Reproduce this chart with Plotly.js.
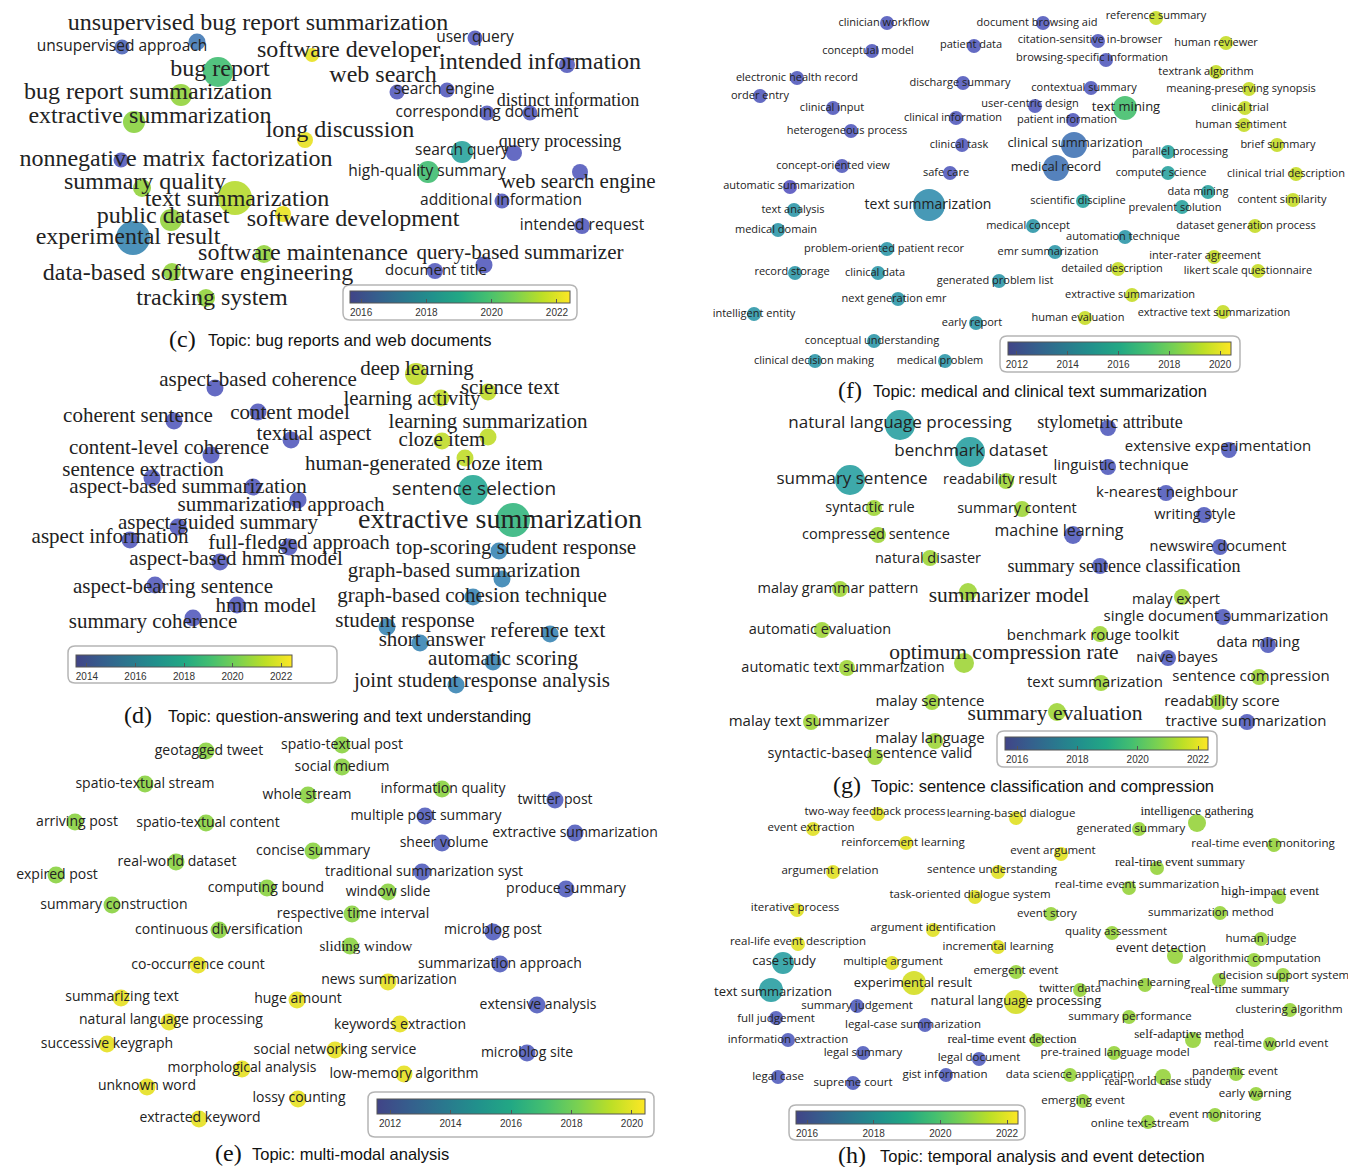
<!DOCTYPE html>
<html><head><meta charset="utf-8">
<script src="https://cdn.plot.ly/plotly-3.0.1.min.js"></script>
<style>html,body{margin:0;padding:0;background:#fff}#chart{width:1348px;height:1167px}</style>
</head><body><div id="chart"></div>
<script>
// Each row: [term, nodeX, nodeY, averagePublicationYear, nodeWeight, labelX, labelY, labelSize, serif]
const panelC = [
 ['unsupervised bug report summarization',197,42,2017.0,17,258,24,24,1],
 ['unsupervised approach',122,47,2016.4,15,122,47,15.5,0],
 ['software developer.',312,55,2022.2,14,351,51,24,1],
 ['user query',475,38,2016.0,15,475,38,15.5,0],
 ['bug report',218,72,2019.6,30,220,70,24,1],
 ['intended information',567,65,2016.0,16,540,63,24,1],
 ['web search',397,92,2016.0,15,383,76,24,1],
 ['search engine',447,90,2016.0,15,444,90,15.5,0],
 ['bug report summarization',181,95,2020.9,22,148,93,24,1],
 ['distinct information',530,113,2016.0,15,568,101,18,1],
 ['corresponding document',487,113,2016.0,15,487,113,15.5,0],
 ['extractive summarization',134,122,2020.8,22,150,117,24,1],
 ['long discussion',305,140,2022.2,16,340,131,24,1],
 ['query processing',514,153,2016.0,16,560,142,18,1],
 ['search query',462,152,2018.5,22,462,151,15.5,0],
 ['nonnegative matrix factorization',121,160,2016.0,15,176,160,24,1],
 ['high-quality summary',428,172,2019.6,22,427,172,15.5,0],
 ['web search engine',580,172,2016.0,16,578,183,21,1],
 ['summary quality',142,188,2020.9,18,145,183,24,1],
 ['text summarization',235,198,2021.4,34,237,200,24,1],
 ['additional information',502,201,2016.0,15,501,201,15.5,0],
 ['public dataset',171,220,2020.9,22,163,217,24,1],
 ['software development',283,214,2022.2,16,353,220,24,1],
 ['intended request',582,226,2016.0,16,582,226,15.5,0],
 ['experimental result',133,238,2017.4,34,128,238,24,1],
 ['software maintenance',264,254,2020.9,18,303,254,24,1],
 ['query-based summarizer',484,265,2016.0,17,520,254,21,1],
 ['document title',435,271,2016.0,16,436,271,15,0],
 ['data-based software engineering',172,272,2020.9,18,198,274,24,1],
 ['tracking system',206,298,2020.9,18,212,299,24,1]
];
const panelD = [
 ['deep learning',416,374,2021.3,22,417,370,21,1],
 ['aspect-based coherence',215,388,2014.0,17,258,381,21,1],
 ['science text',488,392,2021.3,17,510,389,21,1],
 ['learning activity',441,398,2021.3,17,412,400,21,1],
 ['coherent sentence',174,421,2014.0,17,138,417,21,1],
 ['content model',258,412,2014.0,17,290,414,21,1],
 ['learning summarization',488,437,2021.3,17,488,423,21,1],
 ['textual aspect',291,440,2014.0,17,314,435,21,1],
 ['cloze item',442,441,2021.3,17,442,441,21,1],
 ['human-generated cloze item',465,458,2021.3,17,424,465,21,1],
 ['content-level coherence',211,455,2014.0,17,169,449,21,1],
 ['sentence extraction',152,478,2014.0,17,143,471,21,1],
 ['aspect-based summarization',253,487,2014.0,17,188,488,21,1],
 ['sentence selection',473,490,2017.6,30,474,490,19,0],
 ['summarization approach',298,500,2014.0,17,281,506,21,1],
 ['extractive summarization',513,520,2018.4,34,500,521,28,1],
 ['aspect-guided summary',178,527,2014.0,17,218,524,21,1],
 ['aspect information',130,540,2014.0,17,110,538,21,1],
 ['full-fledged approach',289,547,2014.0,17,299,544,21,1],
 ['top-scoring student response',499,551,2015.8,17,516,549,21,1],
 ['aspect-based hmm model',220,562,2014.0,17,236,560,21,1],
 ['graph-based summarization',502,579,2015.8,17,464,572,21,1],
 ['aspect-bearing sentence',155,585,2014.0,17,173,588,21,1],
 ['graph-based cohesion technique',473,597,2015.8,17,472,597,21,1],
 ['hmm model',237,605,2014.0,17,266,607,21,1],
 ['summary coherence',193,618,2014.0,17,153,623,21,1],
 ['student response',387,627,2015.8,17,405,622,21,1],
 ['reference text',550,634,2015.8,17,548,632,21,1],
 ['short answer',420,643,2015.8,17,432,641,21,1],
 ['automatic scoring',493,662,2015.8,17,503,660,21,1],
 ['joint student response analysis',456,685,2015.8,17,482,682,21,1]
];
const panelE = [
 ['geotagged tweet',206,751,2018.3,17,209,751,14,0],
 ['spatio-textual post',342,745,2018.3,17,342,745,14,0],
 ['social medium',342,767,2018.3,17,342,767,14,0],
 ['spatio-textual stream',145,784,2018.3,17,145,784,14,0],
 ['information quality',442,789,2018.3,17,443,789,14,0],
 ['whole stream',308,795,2018.3,17,307,795,14,0],
 ['twitter post',555,800,2012.1,17,555,800,14,0],
 ['multiple post summary',425,816,2012.1,17,426,816,14,0],
 ['arriving post',75,822,2018.3,17,77,822,14,0],
 ['spatio-textual content',206,823,2018.3,17,208,823,14,0],
 ['extractive summarization',575,833,2012.1,17,575,833,14,0],
 ['sheer volume',442,843,2012.1,17,444,843,14,0],
 ['concise summary',313,851,2018.3,17,313,851,14,0],
 ['real-world dataset',176,862,2018.3,17,177,862,14,0],
 ['traditional summarization syst',422,872,2012.1,17,424,872,14,0],
 ['expired post',56,875,2018.3,17,57,875,14,0],
 ['computing bound',267,888,2018.3,17,266,888,14,0],
 ['window slide',388,892,2018.3,17,388,892,14,0],
 ['produce summary',566,889,2012.1,17,566,889,14,0],
 ['summary construction',112,905,2018.3,17,114,905,14,0],
 ['respective time interval',352,914,2018.3,17,353,914,14,0],
 ['continuous diversification',219,930,2018.3,17,219,930,14,0],
 ['microblog post',493,932,2012.1,17,493,930,14,0],
 ['sliding window',350,946,2018.3,17,366,947,15,1],
 ['co-occurrence count',198,965,2020.1,17,198,965,14,0],
 ['summarization approach',500,964,2012.1,17,500,964,14,0],
 ['news summarization',388,982,2020.1,17,389,980,14,0],
 ['summarizing text',121,998,2020.1,17,122,997,14,0],
 ['huge amount',297,1000,2020.1,17,298,999,14,0],
 ['extensive analysis',537,1005,2012.1,17,538,1005,14,0],
 ['natural language processing',169,1022,2020.1,17,171,1020,14,0],
 ['keywords extraction',400,1024,2020.1,17,400,1025,14,0],
 ['successive keygraph',107,1044,2020.1,17,107,1044,14,0],
 ['social networking service',335,1050,2020.1,17,335,1050,14,0],
 ['microblog site',527,1053,2012.1,17,527,1053,14,0],
 ['morphological analysis',242,1069,2020.1,17,242,1068,14,0],
 ['low-memory algorithm',404,1074,2020.1,17,404,1074,14,0],
 ['unknown word',147,1087,2020.1,17,147,1086,14,0],
 ['lossy counting',298,1099,2020.1,17,299,1098,14,0],
 ['extracted keyword',199,1119,2020.1,17,200,1118,14,0]
];
const panelF = [
 ['clinician workflow',887,23,2012.1,14,884,23,11,0],
 ['document browsing aid',1043,23,2012.1,14,1037,23,11,0],
 ['reference summary',1156,18,2019.4,14,1156,16,11,0],
 ['conceptual model',872,51,2012.1,14,868,51,11,0],
 ['patient data',974,46,2012.1,14,971,45,11,0],
 ['citation-sensitive in-browser',1098,41,2012.1,14,1090,40,11,0],
 ['human reviewer',1226,43,2019.4,14,1216,43,11,0],
 ['browsing-specific information',1106,60,2012.1,14,1092,58,11,0],
 ['textrank algorithm',1216,72,2019.4,14,1206,72,11,0],
 ['electronic health record',797,78,2012.1,14,797,78,11,0],
 ['discharge summary',963,83,2012.1,14,960,83,11,0],
 ['contextual summary',1091,88,2012.1,14,1084,88,11,0],
 ['meaning-preserving synopsis',1249,89,2019.4,14,1241,89,11,0],
 ['order entry',760,96,2012.1,14,760,96,11,0],
 ['clinical input',833,108,2012.1,14,832,108,11,0],
 ['user-centric design',1035,106,2012.1,14,1030,104,11,0],
 ['text mining',1125,108,2016.9,24,1126,108,13,0],
 ['clinical trial',1245,108,2019.4,14,1240,108,11,0],
 ['clinical information',956,118,2012.1,14,953,118,11,0],
 ['patient information',1073,120,2012.1,14,1067,120,11,0],
 ['human sentiment',1244,125,2019.4,14,1241,125,11,0],
 ['heterogeneous process',851,131,2012.1,14,847,131,11,0],
 ['clinical task',962,145,2012.1,14,959,145,11,0],
 ['clinical summarization',1074,145,2013.2,26,1075,144,13,0],
 ['parallel processing',1168,152,2015.3,14,1180,152,11,0],
 ['brief summary',1277,145,2019.4,14,1278,145,11,0],
 ['concept-oriented view',842,166,2012.1,14,833,166,11,0],
 ['safe care',950,173,2012.1,14,946,173,11,0],
 ['medical record',1056,168,2013.2,26,1056,168,13,0],
 ['computer science',1168,173,2015.3,14,1161,173,11,0],
 ['clinical trial description',1296,174,2019.4,14,1286,174,11,0],
 ['automatic summarization',790,187,2011.8,14,789,186,11,0],
 ['data mining',1208,192,2015.3,14,1198,192,11,0],
 ['text summarization',929,205,2014.3,32,928,205,14,0],
 ['scientific discipline',1083,201,2015.3,14,1078,201,11,0],
 ['content similarity',1293,200,2019.4,14,1282,200,11,0],
 ['text analysis',794,210,2014.7,14,793,210,11,0],
 ['prevalent solution',1182,207,2015.3,14,1175,208,11,0],
 ['medical domain',778,230,2014.7,14,776,230,11,0],
 ['medical concept',1033,226,2014.7,14,1028,226,11,0],
 ['dataset generation process',1255,226,2019.4,14,1246,226,11,0],
 ['automation technique',1125,237,2014.7,14,1123,237,11,0],
 ['problem-oriented patient recor',887,249,2014.7,14,884,249,11,0],
 ['emr summarization',1055,252,2014.7,14,1048,252,11,0],
 ['inter-rater agreement',1214,257,2019.4,14,1205,256,11,0],
 ['record storage',795,273,2014.7,14,792,272,11,0],
 ['clinical data',878,273,2014.7,14,875,273,11,0],
 ['detailed description',1118,269,2019.4,14,1112,269,11,0],
 ['likert scale questionnaire',1258,271,2019.4,14,1248,271,11,0],
 ['generated problem list',999,281,2014.7,14,995,281,11,0],
 ['extractive summarization',1132,295,2019.4,14,1130,295,11,0],
 ['next generation emr',898,299,2014.7,14,894,299,11,0],
 ['intelligent entity',754,314,2014.7,14,754,314,11,0],
 ['extractive text summarization',1223,312,2019.4,14,1214,313,11,0],
 ['early report',976,323,2014.7,14,972,323,11,0],
 ['human evaluation',1085,318,2019.4,14,1078,318,11,0],
 ['conceptual understanding',874,341,2014.7,14,872,341,11,0],
 ['clinical decision making',815,361,2014.7,14,814,361,11,0],
 ['medical problem',945,361,2014.7,14,940,361,11,0]
];
const panelG = [
 ['natural language processing',900,425,2018.3,30,900,424,17,0],
 ['stylometric attribute',1108,428,2016.0,16,1110,423,18,1],
 ['benchmark dataset',970,452,2018.3,30,971,452,17,0],
 ['extensive experimentation',1229,450,2016.0,16,1218,447,15,0],
 ['linguistic technique',1108,467,2016.0,16,1121,466,15,0],
 ['summary sentence',850,480,2018.3,30,852,480,17,0],
 ['readability result',1006,481,2021.0,16,1000,480,14.5,0],
 ['k-nearest neighbour',1166,493,2016.0,16,1167,493,15,0],
 ['syntactic rule',874,508,2021.0,16,870,508,14.5,0],
 ['summary content',1022,509,2021.0,16,1017,509,14.5,0],
 ['writing style',1204,515,2016.0,16,1195,515,14.5,0],
 ['compressed sentence',878,535,2021.0,16,876,535,14.5,0],
 ['machine learning',1073,535,2016.0,18,1059,532,16,0],
 ['newswire document',1220,547,2016.0,16,1218,547,14.5,0],
 ['natural disaster',930,558,2021.0,16,928,559,14.5,0],
 ['summary sentence classification',1100,566,2016.0,16,1124,567,18,1],
 ['malay grammar pattern',840,589,2021.0,16,838,589,14.5,0],
 ['summarizer model',968,592,2021.0,18,1009,597,21.5,1],
 ['malay expert',1182,597,2021.0,16,1176,600,14.5,0],
 ['single document summarization',1223,617,2016.0,16,1216,617,15,0],
 ['automatic evaluation',822,630,2021.0,16,820,630,14.5,0],
 ['benchmark rouge toolkit',1100,634,2021.0,16,1093,636,15,0],
 ['data mining',1268,645,2016.0,16,1258,643,15,0],
 ['optimum compression rate',964,663,2021.0,20,1004,654,21.5,1],
 ['naive bayes',1168,658,2016.0,16,1177,658,15,0],
 ['automatic text summarization',847,668,2021.0,16,843,668,14.5,0],
 ['sentence compression',1259,677,2021.0,16,1251,677,15,0],
 ['text summarization',1101,683,2021.0,16,1095,683,15,0],
 ['malay sentence',932,702,2021.0,16,930,702,15,0],
 ['readability score',1218,702,2021.0,16,1222,702,15,0],
 ['summary evaluation',1057,712,2021.0,18,1055,715,21.5,1],
 ['malay text summarizer',811,722,2021.0,16,809,722,15,0],
 ['tractive summarization',1247,722,2016.0,16,1246,722,15,0],
 ['malay language',935,741,2021.0,16,930,739,15,0],
 ['syntactic-based sentence valid',875,757,2021.0,16,870,754,14.5,0]
];
const panelH = [
 ['two-way feedback process',878,814,2022.0,14,875,812,11.5,0],
 ['learning-based dialogue',1016,818,2022.0,14,1011,814,11.5,0],
 ['intelligence gathering',1197,823,2020.9,18,1197,812,13,1],
 ['event extraction',813,829,2022.0,14,811,828,11.5,0],
 ['generated summary',1139,829,2020.9,14,1131,829,11.5,0],
 ['reinforcement learning',906,843,2022.0,14,903,843,11.5,0],
 ['real-time event monitoring',1274,845,2020.9,14,1263,844,11.5,0],
 ['event argument',1061,854,2022.0,14,1053,851,11.5,0],
 ['argument relation',833,872,2022.0,14,830,871,11.5,0],
 ['sentence understanding',998,872,2022.0,14,992,870,11.5,0],
 ['real-time event summary',1157,868,2020.9,14,1180,863,13,1],
 ['real-time event summarization',1129,888,2020.9,14,1137,885,11.5,0],
 ['high-impact event',1279,897,2020.9,14,1270,892,13.5,1],
 ['task-oriented dialogue system',975,897,2022.0,14,970,895,11.5,0],
 ['iterative process',797,910,2022.0,14,795,908,11.5,0],
 ['event story',1051,914,2020.9,14,1047,914,11.5,0],
 ['summarization method',1220,913,2020.9,14,1211,913,11.5,0],
 ['argument identification',933,930,2022.0,14,933,928,11.5,0],
 ['quality assessment',1112,933,2020.9,14,1116,932,11.5,0],
 ['human judge',1261,939,2020.9,14,1261,939,11.5,0],
 ['real-life event description',798,944,2022.0,14,798,942,11.5,0],
 ['incremental learning',998,947,2022.0,14,998,947,11.5,0],
 ['event detection',1175,956,2020.9,16,1161,949,12.5,0],
 ['case study',783,963,2018.3,22,784,962,13,0],
 ['multiple argument',892,963,2022.0,14,893,962,11.5,0],
 ['algorithmic computation',1254,960,2020.9,14,1255,959,11.5,0],
 ['emergent event',1016,972,2020.9,14,1016,971,11.5,0],
 ['decision support system',1283,975,2020.9,14,1284,976,11.5,0],
 ['experimental result',914,983,2021.8,24,913,984,13,0],
 ['text summarization',771,990,2018.3,24,773,993,13,0],
 ['twitter data',1080,990,2020.9,14,1070,989,11.5,0],
 ['machine learning',1145,985,2020.9,14,1144,983,11.5,0],
 ['real-time summary',1219,980,2020.9,14,1240,990,13,1],
 ['natural language processing',1016,1002,2021.8,24,1016,1002,13,0],
 ['clustering algorithm',1290,1010,2020.9,14,1289,1010,11.5,0],
 ['summary judgement',857,1006,2016.1,14,857,1006,11.5,0],
 ['full judgement',776,1018,2016.1,14,776,1019,11.5,0],
 ['summary performance',1129,1017,2020.9,14,1130,1017,11.5,0],
 ['legal-case summarization',925,1025,2016.1,14,913,1025,11.5,0],
 ['self-adaptive method',1193,1040,2020.9,16,1189,1035,13,1],
 ['real-time world event',1270,1044,2020.9,14,1271,1044,11.5,0],
 ['information extraction',788,1040,2016.1,14,788,1040,11.5,0],
 ['real-time event detection',1037,1040,2020.9,14,1012,1040,13,1],
 ['pre-trained language model',1114,1053,2020.9,14,1115,1053,11.5,0],
 ['legal summary',863,1053,2016.1,14,863,1053,11.5,0],
 ['legal document',979,1059,2016.1,14,979,1058,11.5,0],
 ['legal case',778,1077,2016.1,14,778,1077,11.5,0],
 ['supreme court',853,1083,2016.1,14,853,1083,11.5,0],
 ['gist information',946,1075,2016.1,14,945,1075,11.5,0],
 ['data science application',1070,1075,2020.9,14,1070,1075,11.5,0],
 ['pandemic event',1236,1074,2020.9,14,1235,1072,11.5,0],
 ['real-world case study',1163,1077,2020.9,16,1158,1082,12.5,1],
 ['early warning',1256,1094,2020.9,14,1255,1094,11.5,0],
 ['emerging event',1083,1101,2020.9,14,1083,1101,11.5,0],
 ['event monitoring',1215,1115,2020.9,14,1215,1115,11.5,0],
 ['online text-stream',1148,1122,2020.9,14,1140,1124,11.5,0]
];

// colour-scale year ranges and tick labels of each panel's legend bar
const yearsC = [2015.66, 2022.4], ticksC = [2016, 2018, 2020, 2022];
const yearsD = [2013.55, 2022.45], ticksD = [2014, 2016, 2018, 2020, 2022];
const yearsE = [2011.57, 2020.43], ticksE = [2012, 2014, 2016, 2018, 2020];
const yearsF = [2011.65, 2020.43], ticksF = [2012, 2014, 2016, 2018, 2020];
const yearsG = [2015.6, 2022.33],  ticksG = [2016, 2018, 2020, 2022];
const yearsH = [2015.67, 2022.33], ticksH = [2016, 2018, 2020, 2022];

const captionLetters = ['(c)', '(d)', '(e)', '(f)', '(g)', '(h)'];
const captionTexts = [
 'Topic: bug reports and web documents',
 'Topic: question-answering and text understanding',
 'Topic: multi-modal analysis',
 'Topic: medical and clinical text summarization',
 'Topic: sentence classification and compression',
 'Topic: temporal analysis and event detection'
];

const W = 1348, H = 1167;
const SERIF = 'Liberation Serif, Times New Roman, serif';
const SANS = 'Open Sans, Noto Sans, sans-serif';
// scale used by the legend bars
const viridis = [
 [0,'#414487'],[0.125,'#355f8d'],[0.25,'#2a788e'],[0.375,'#21918c'],
 [0.5,'#22a884'],[0.625,'#44bf70'],[0.75,'#7ad151'],[0.875,'#bddf26'],[1,'#fde725']
];
// same scale as the nodes appear on the map (shaded, slightly lighter)
const viridisNodes = [
 [0,'#5a52c2'],[0.125,'#4a68b6'],[0.25,'#3a84b4'],[0.375,'#2a9ca6'],
 [0.5,'#26ae8c'],[0.625,'#4cc464'],[0.75,'#84d042'],[0.875,'#c2dc28'],[1,'#f4e21e']
];

// layout of each panel: legend bar [x0,y0,x1,y1], legend box, caption letter x, caption text x, caption y
const panels = [
 {rows: panelC, years: yearsC, ticks: ticksC, bar:[350,291,570,303], box:[343,285,577,320], cap:[167,206,339]},
 {rows: panelD, years: yearsD, ticks: ticksD, bar:[76,655,292,667], box:[68,646,337,683], cap:[122,166,715]},
 {rows: panelE, years: yearsE, ticks: ticksE, bar:[377,1099,645,1114], box:[368,1092,654,1137], cap:[213,250,1153]},
 {rows: panelF, years: yearsF, ticks: ticksF, bar:[1008,342,1231,355], box:[1000,336,1240,372], cap:[836,871,390]},
 {rows: panelG, years: yearsG, ticks: ticksG, bar:[1005,737,1208,750], box:[997,731,1217,767], cap:[831,869,785]},
 {rows: panelH, years: yearsH, ticks: ticksH, bar:[796,1111,1018,1124], box:[789,1105,1025,1140], cap:[836,878,1155]}
];

function rrect(x0,y0,x1,y1,r){
 return `M${x0+r},${y0} L${x1-r},${y0} Q${x1},${y0} ${x1},${y0+r} L${x1},${y1-r} Q${x1},${y1} ${x1-r},${y1} L${x0+r},${y1} Q${x0},${y1} ${x0},${y1-r} L${x0},${y0+r} Q${x0},${y0} ${x0+r},${y0} Z`;
}

const markerTraces = [], scaleTraces = [], textTraces = [], shapes = [], annotations = [];
panels.forEach((p, i) => {
 const rows = p.rows;
 markerTraces.push({
  type:'scatter', mode:'markers', hoverinfo:'skip',
  x: rows.map(r=>r[1]), y: rows.map(r=>r[2]),
  marker:{
   size: rows.map(r=>r[4]), color: rows.map(r=>r[3]),
   colorscale: viridisNodes, cmin: p.years[0], cmax: p.years[1],
   opacity: 0.9, line:{width:0}, showscale:false
  }
 });
 // legend bar (its single point lies outside the visible range)
 scaleTraces.push({
  type:'scatter', mode:'markers', hoverinfo:'skip', x:[-500], y:[-500],
  marker:{
   size:1, color:[p.years[0]], colorscale: viridis, cmin: p.years[0], cmax: p.years[1],
   showscale:true,
   colorbar:{
    orientation:'h', x:(p.bar[0]+p.bar[2])/2/W, xanchor:'center',
    y: 1 - p.bar[1]/H, yanchor:'top',
    len: p.bar[2]-p.bar[0], lenmode:'pixels',
    thickness: p.bar[3]-p.bar[1], thicknessmode:'pixels',
    xpad:0, ypad:0, outlinewidth:1, outlinecolor:'#555',
    tickmode:'array', tickvals: p.ticks, ticktext: p.ticks.map(String),
    ticks:'inside', ticklen:4, tickwidth:1, tickcolor:'#555',
    tickfont:{family:'Liberation Sans Narrow, Liberation Sans, sans-serif', size:10, color:'#333'},
    bgcolor:'rgba(0,0,0,0)', borderwidth:0
   }
  }
 });
 textTraces.push({
  type:'scatter', mode:'text', hoverinfo:'skip',
  x: rows.map(r=>r[5]), y: rows.map(r=>r[6]),
  text: rows.map(r=>r[0]), textposition:'middle center',
  textfont:{
   family: rows.map(r=>r[8] ? SERIF : SANS),
   size: rows.map(r=>r[7]), color:'#222'
  }
 });
 const b = p.box;
 shapes.push({type:'path', xref:'x', yref:'y', layer:'below', path: rrect(b[0],b[1],b[2],b[3],7),
  line:{color:'#b5b5b5', width:1.5}, fillcolor:'rgba(0,0,0,0)'});
 annotations.push({xref:'x', yref:'y', x:p.cap[0], y:p.cap[2], xanchor:'left', yanchor:'middle',
  text: captionLetters[i], showarrow:false, font:{family:SERIF, size:24, color:'#111'}});
 annotations.push({xref:'x', yref:'y', x:p.cap[1], y:p.cap[2]+1, xanchor:'left', yanchor:'middle',
  text: captionTexts[i], showarrow:false, font:{family:'Liberation Sans, Arial, sans-serif', size:16.5, color:'#111'}});
});

const layout = {
 width: W, height: H, margin:{l:0,r:0,t:0,b:0},
 paper_bgcolor:'#fff', plot_bgcolor:'#fff', showlegend:false, hovermode:false,
 xaxis:{range:[0,W], visible:false, fixedrange:true},
 yaxis:{range:[H,0], visible:false, fixedrange:true},
 shapes, annotations
};
Plotly.newPlot('chart', markerTraces.concat(scaleTraces, textTraces), layout, {staticPlot:true, displayModeBar:false});
</script></body></html>
